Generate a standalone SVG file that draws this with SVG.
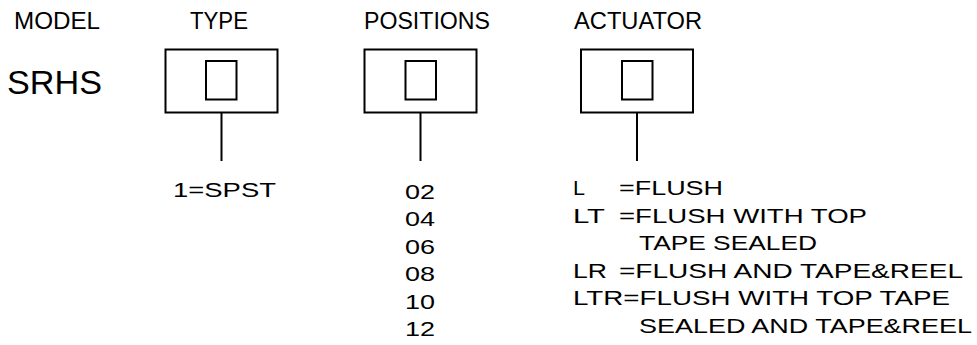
<svg xmlns="http://www.w3.org/2000/svg" width="977" height="345" viewBox="0 0 977 345">
<style>
text{font-family:"Liberation Sans",Arial,sans-serif;fill:#000}
.h{font-size:23px}
.t{font-size:21px}
.box{fill:none;stroke:#000;stroke-width:2}
.con{stroke:#000;stroke-width:2;fill:none}
</style>
<rect width="977" height="345" fill="#fff"/>
<g id="model">
<text class="h" x="14" y="29" textLength="86" lengthAdjust="spacingAndGlyphs">MODEL</text>
<text x="7" y="94" font-size="33" textLength="95" lengthAdjust="spacingAndGlyphs">SRHS</text>
</g>
<g id="type">
<text class="h" x="190" y="29" textLength="58" lengthAdjust="spacingAndGlyphs">TYPE</text>
<rect class="box" x="165.5" y="49.5" width="112" height="63"/>
<rect class="box" x="206" y="61" width="30.5" height="38.5"/>
<text class="t" x="173" y="197" textLength="103" lengthAdjust="spacingAndGlyphs">1=SPST</text>
</g>
<g id="positions">
<text class="h" x="364" y="29" textLength="126" lengthAdjust="spacingAndGlyphs">POSITIONS</text>
<rect class="box" x="364.5" y="49.5" width="112" height="63"/>
<rect class="box" x="405.5" y="61" width="30.5" height="38.5"/>
<text class="t" x="405" y="198.5" textLength="30" lengthAdjust="spacingAndGlyphs">02</text>
<text class="t" x="405" y="226" textLength="30" lengthAdjust="spacingAndGlyphs">04</text>
<text class="t" x="405" y="253.5" textLength="30" lengthAdjust="spacingAndGlyphs">06</text>
<text class="t" x="405" y="281" textLength="30" lengthAdjust="spacingAndGlyphs">08</text>
<text class="t" x="405" y="308.5" textLength="30" lengthAdjust="spacingAndGlyphs">10</text>
<text class="t" x="405" y="336" textLength="30" lengthAdjust="spacingAndGlyphs">12</text>
</g>
<g id="actuator">
<text class="h" x="574" y="29" textLength="128" lengthAdjust="spacingAndGlyphs">ACTUATOR</text>
<rect class="box" x="581" y="49.5" width="112" height="63"/>
<rect class="box" x="622" y="61" width="30.5" height="38.5"/>
<text class="t" x="573" y="195" textLength="12" lengthAdjust="spacingAndGlyphs">L</text>
<text class="t" x="619" y="195" textLength="104" lengthAdjust="spacingAndGlyphs">=FLUSH</text>
<text class="t" x="573" y="222.5" textLength="32" lengthAdjust="spacingAndGlyphs">LT</text>
<text class="t" x="619" y="222.5" textLength="248" lengthAdjust="spacingAndGlyphs">=FLUSH WITH TOP</text>
<text class="t" x="639" y="250" textLength="178" lengthAdjust="spacingAndGlyphs">TAPE SEALED</text>
<text class="t" x="573" y="277.5" textLength="34" lengthAdjust="spacingAndGlyphs">LR</text>
<text class="t" x="619" y="277.5" textLength="344" lengthAdjust="spacingAndGlyphs">=FLUSH AND TAPE&amp;REEL</text>
<text class="t" x="573" y="305" textLength="377" lengthAdjust="spacingAndGlyphs">LTR=FLUSH WITH TOP TAPE</text>
<text class="t" x="639" y="332.5" textLength="333" lengthAdjust="spacingAndGlyphs">SEALED AND TAPE&amp;REEL</text>
</g>
<g id="connectors">
<line class="con" x1="221.5" y1="112.5" x2="221.5" y2="161"/>
<line class="con" x1="420.5" y1="112.5" x2="420.5" y2="161"/>
<line class="con" x1="637" y1="112.5" x2="637" y2="161"/>
</g>
</svg>
